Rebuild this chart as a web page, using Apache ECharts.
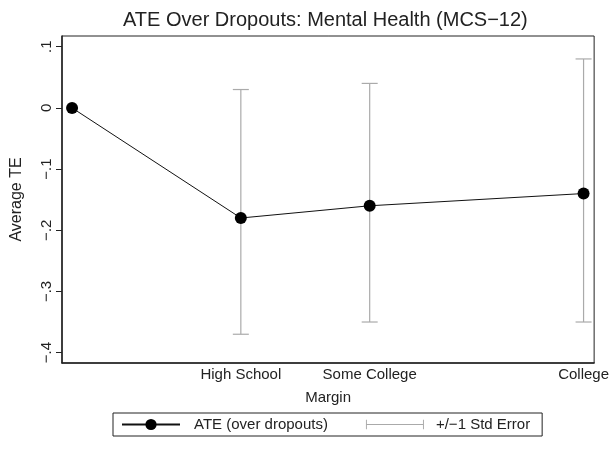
<!DOCTYPE html>
<html>
<head>
<meta charset="utf-8">
<script src="https://cdn.jsdelivr.net/npm/echarts@6/dist/echarts.min.js"></script>
<style>html,body{margin:0;padding:0;background:#fff}#c{width:612px;height:449px}</style>
</head>
<body>
<div id="c"></div>
<script>
// Data
var categories = ['Dropouts', 'High School', 'Some College', 'College'];
var marginValues = [0, 1.31, 2.31, 3.97];
var ateValues = [0, -0.18, -0.16, -0.14];
var seLower = [null, -0.37, -0.35, -0.35];
var seUpper = [null, 0.03, 0.04, 0.08];
var yTicks = [0.1, 0, -0.1, -0.2, -0.3, -0.4];
var xTickCategories = ['High School', 'Some College', 'College'];

var FONT = '"Liberation Sans", Arial, Helvetica, sans-serif';

var lineData = marginValues.map(function (x, i) { return [x, ateValues[i]]; });
var errData = [];
marginValues.forEach(function (x, i) {
  if (seLower[i] !== null) errData.push([x, seLower[i], seUpper[i]]);
});
var xTickValues = xTickCategories.map(function (c) { return marginValues[categories.indexOf(c)]; });

function fmtY(v) {
  var r = Math.round(v * 10) / 10;
  if (r === 0) return '0';
  var s = '.' + Math.round(Math.abs(r) * 10);
  return (r < 0 ? '\u2212' : '') + s;
}

var chart = echarts.init(document.getElementById('c'));
chart.setOption({
  animation: false,
  backgroundColor: '#fff',
  title: {
    text: 'ATE Over Dropouts: Mental Health (MCS\u221212)',
    left: 328 - 210,
    top: 5,
    textStyle: { fontFamily: FONT, fontSize: 20, fontWeight: 'normal', color: '#222' }
  },
  grid: { left: 62, right: 17, top: 36, bottom: 86, show: true, borderColor: '#222', borderWidth: 1 },
  legend: {
    left: 113,
    top: 413,
    orient: 'horizontal',
    padding: [4, 12, 4, 8],
    borderColor: '#222',
    borderWidth: 1,
    borderRadius: 0,
    itemWidth: 58,
    itemHeight: 14,
    itemGap: 38,
    textStyle: { fontFamily: FONT, fontSize: 15, color: '#222' },
    data: [
      { name: 'ATE (over dropouts)', textStyle: { padding: [0, 0, 0, 9] } },
      { name: '+/\u22121 Std Error', icon: 'path://M0,0h1v10h-1zM0,4.5h60v1h-60zM59,0h1v10h-1z', itemStyle: { color: '#aaaaaa' }, textStyle: { padding: [0, 0, 0, 7] } }
    ]
  },
  xAxis: {
    type: 'value',
    min: -0.078,
    max: 4.052,
    name: 'Margin',
    nameLocation: 'middle',
    nameGap: 27,
    nameTextStyle: { fontFamily: FONT, fontSize: 15, color: '#222' },
    axisLine: { show: true, onZero: false, lineStyle: { color: '#222', width: 1.5 } },
    axisTick: { show: false },
    splitLine: { show: false },
    axisLabel: {
      customValues: xTickValues,
      margin: 4,
      fontFamily: FONT, fontSize: 15, color: '#222',
      formatter: function (v) {
        for (var i = 0; i < marginValues.length; i++) {
          if (Math.abs(marginValues[i] - v) < 1e-6) return categories[i];
        }
        return '';
      }
    }
  },
  yAxis: {
    type: 'value',
    min: -0.417,
    max: 0.1175,
    name: 'Average TE',
    nameLocation: 'middle',
    nameGap: 37,
    nameTextStyle: { fontFamily: FONT, fontSize: 16, color: '#222' },
    axisLine: { show: true, onZero: false, lineStyle: { color: '#222', width: 1.5 } },
    axisTick: { show: true, customValues: yTicks, length: 6, lineStyle: { color: '#222' } },
    splitLine: { show: false },
    axisLabel: {
      customValues: yTicks,
      rotate: 90,
      margin: 8,
      fontFamily: FONT, fontSize: 15, color: '#222',
      formatter: fmtY
    }
  },
  series: [
    {
      name: '+/\u22121 Std Error',
      type: 'custom',
      data: errData,
      itemStyle: { color: '#aaaaaa' },
      z: 1,
      renderItem: function (params, api) {
        var x = api.value(0);
        var lo = api.coord([x, api.value(1)]);
        var hi = api.coord([x, api.value(2)]);
        var hw = 8;
        var style = { stroke: '#aaaaaa', lineWidth: 1.2, fill: null };
        return {
          type: 'group',
          children: [
            { type: 'line', shape: { x1: lo[0], y1: lo[1], x2: hi[0], y2: hi[1] }, style: style },
            { type: 'line', shape: { x1: lo[0] - hw, y1: lo[1], x2: lo[0] + hw, y2: lo[1] }, style: style },
            { type: 'line', shape: { x1: hi[0] - hw, y1: hi[1], x2: hi[0] + hw, y2: hi[1] }, style: style }
          ]
        };
      }
    },
    {
      name: 'ATE (over dropouts)',
      type: 'line',
      data: lineData,
      symbol: 'circle',
      symbolSize: 12,
      z: 3,
      lineStyle: { color: '#111', width: 1 },
      itemStyle: { color: '#000' }
    }
  ]
});
</script>
</body>
</html>
